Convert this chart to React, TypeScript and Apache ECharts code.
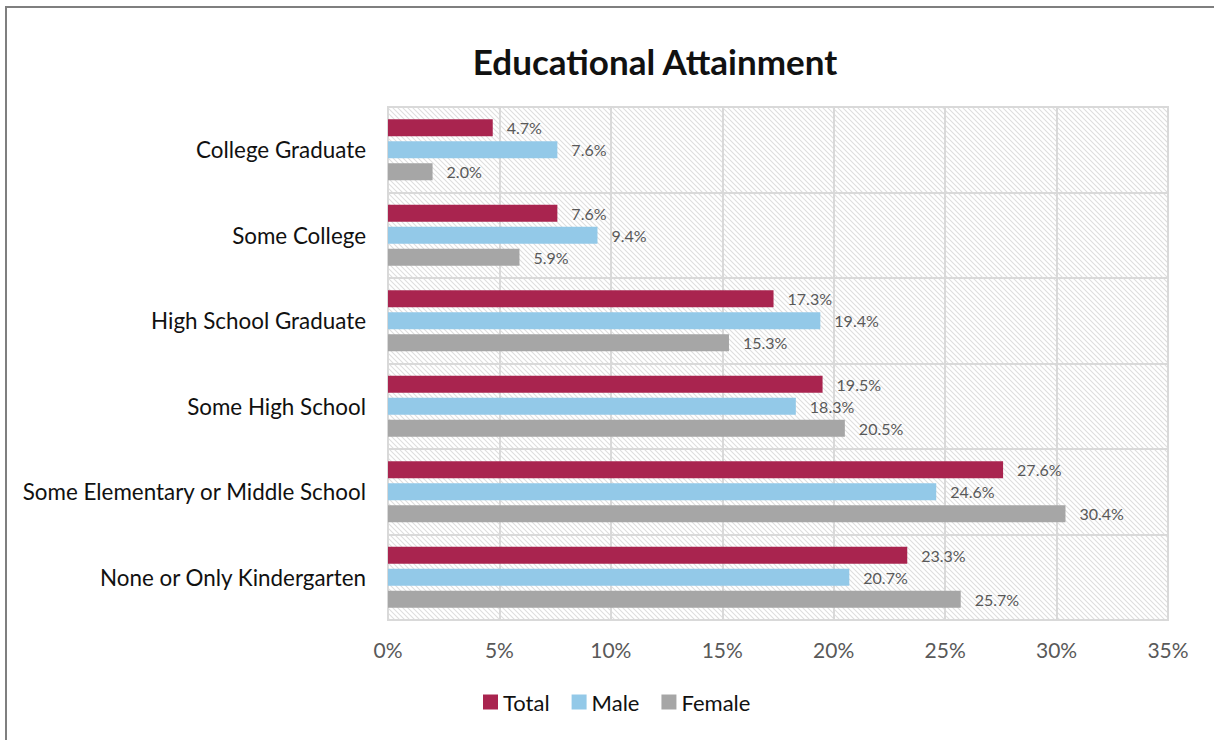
import React, { useEffect, useRef } from "react";
import * as echarts from "echarts";

// categories listed bottom-to-top (category axis grows upwards)
const categories = [
  "None or Only Kindergarten",
  "Some Elementary or Middle School",
  "Some High School",
  "High School Graduate",
  "Some College",
  "College Graduate",
];
const totalValues = [23.3, 27.6, 19.5, 17.3, 7.6, 4.7];
const maleValues = [20.7, 24.6, 18.3, 19.4, 9.4, 7.6];
const femaleValues = [25.7, 30.4, 20.5, 15.3, 5.9, 2.0];
const seriesNames = ["Total", "Male", "Female"];
const colors = { Total: "#A9244F", Male: "#93C9E8", Female: "#A6A6A6" };

const FONT = "Lato, 'Open Sans', sans-serif";

function makeHatch(): string {
  const s = 5;
  const c = document.createElement("canvas");
  c.width = s;
  c.height = s;
  const ctx = c.getContext("2d")!;
  ctx.fillStyle = "#ffffff";
  ctx.fillRect(0, 0, s, s);
  ctx.strokeStyle = "#dedede";
  ctx.lineWidth = 1.1;
  ctx.beginPath();
  ctx.moveTo(-1, -1);
  ctx.lineTo(s + 1, s + 1);
  ctx.moveTo(-1, s - 1);
  ctx.lineTo(1, s + 1);
  ctx.moveTo(s - 1, -1);
  ctx.lineTo(s + 1, 1);
  ctx.stroke();
  return c.toDataURL();
}

export default function App() {
  const ref = useRef<HTMLDivElement>(null);
  useEffect(() => {
    if (!ref.current) return;
    const chart = echarts.init(ref.current, undefined, { renderer: "svg" });
    const hatch = makeHatch();
    const mkSeries = (name: string, data: number[]) => ({
      name,
      type: "bar",
      data,
      barWidth: 17,
      barGap: "30%",
      itemStyle: { color: (colors as any)[name] },
      label: {
        show: true,
        position: "right",
        distance: 14,
        formatter: (p: any) => p.value.toFixed(1) + "%",
        color: "#595959",
        fontSize: 16,
        fontFamily: FONT,
      },
    });
    chart.setOption({
      animation: false,
      title: {
        text: "Educational Attainment",
        left: 650,
        textAlign: "center",
        top: 38,
        textStyle: { fontSize: 35, fontWeight: "bold", color: "#111", fontFamily: FONT },
      },
      legend: {
        data: seriesNames,
        bottom: 22,
        left: 478,
        icon: "rect",
        itemWidth: 15,
        itemHeight: 15,
        itemGap: 22,
        textStyle: { fontSize: 22, color: "#111", fontFamily: FONT },
      },
      grid: {
        left: 388,
        right: 46,
        top: 107,
        bottom: 120,
        show: true,
        backgroundColor: { image: hatch, repeat: "repeat" } as any,
        borderColor: "#d9d9d9",
        borderWidth: 2,
      },
      xAxis: {
        type: "value",
        min: 0,
        max: 35,
        interval: 5,
        axisLabel: {
          formatter: "{value}%",
          fontSize: 21,
          color: "#595959",
          margin: 19,
          fontFamily: FONT,
        },
        axisLine: { show: false },
        axisTick: { show: false },
        splitLine: { show: true, lineStyle: { color: "#d9d9d9", width: 2 } },
      },
      yAxis: {
        type: "category",
        data: categories,
        axisLabel: { fontSize: 22.4, color: "#111", margin: 22, fontFamily: FONT },
        axisLine: { show: true, lineStyle: { color: "#d9d9d9", width: 2 } },
        axisTick: { show: false },
        splitLine: { show: true, lineStyle: { color: "#d9d9d9", width: 2 } },
      },
      series: [
        mkSeries("Total", totalValues),
        mkSeries("Male", maleValues),
        mkSeries("Female", femaleValues),
      ],
    });
    return () => chart.dispose();
  }, []);
  return (
    <div style={{ position: "absolute", left: 0, top: 0, width: 1214, height: 740, overflow: "hidden", background: "#fff" }}>
      <div
        style={{
          position: "absolute",
          left: 5,
          top: 6,
          width: 1300,
          height: 800,
          borderLeft: "2px solid #7f7f7f",
          borderTop: "2px solid #7f7f7f",
        }}
      />
      <div ref={ref} style={{ position: "absolute", left: 0, top: 0, width: 1214, height: 740 }} />
    </div>
  );
}
